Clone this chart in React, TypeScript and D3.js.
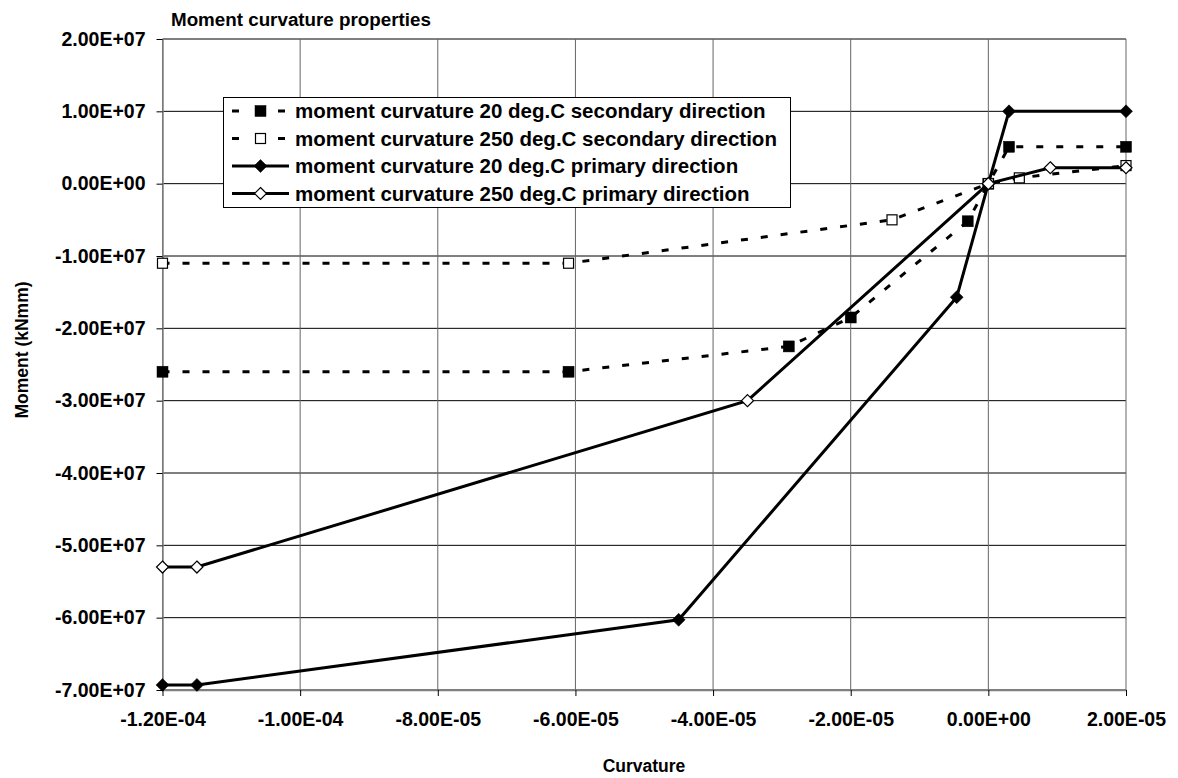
import React, { useEffect, useRef } from 'react';
import * as d3 from 'd3';

// curvature (x) and moment in kNmm (y) for each series
const curv20Sec = [-1.2e-4, -6.1e-5, -2.9e-5, -2.0e-5, -3e-6, 0, 3e-6, 2e-5];
const mom20Sec = [-2.6e7, -2.6e7, -2.25e7, -1.85e7, -5.2e6, 0, 5.1e6, 5.1e6];

const curv250Sec = [-1.2e-4, -6.1e-5, -1.4e-5, 0, 4.5e-6, 2e-5];
const mom250Sec = [-1.1e7, -1.1e7, -5.0e6, 0, 8e5, 2.5e6];

const curv20Pri = [-1.2e-4, -1.15e-4, -4.5e-5, -4.6e-6, 0, 3e-6, 2e-5];
const mom20Pri = [-6.93e7, -6.93e7, -6.03e7, -1.57e7, 0, 1.0e7, 1.0e7];

const curv250Pri = [-1.2e-4, -1.15e-4, -3.5e-5, 0, 9e-6, 2e-5];
const mom250Pri = [-5.3e7, -5.3e7, -3.0e7, 0, 2.2e6, 2.2e6];

const seriesNames = [
  'moment curvature 20 deg.C secondary direction',
  'moment curvature 250 deg.C secondary direction',
  'moment curvature 20 deg.C primary direction',
  'moment curvature 250 deg.C primary direction',
];

const xTicks = [-1.2e-4, -1.0e-4, -8e-5, -6e-5, -4e-5, -2e-5, 0, 2e-5];
const yTicks = [2e7, 1e7, 0, -1e7, -2e7, -3e7, -4e7, -5e7, -6e7, -7e7];

const fmtE = (v: number) => {
  const [m, e] = v.toExponential(2).split('e');
  const n = parseInt(e, 10);
  return `${m}E${n < 0 ? '-' : '+'}${String(Math.abs(n)).padStart(2, '0')}`;
};

const App = () => {
  const svgRef = useRef<SVGSVGElement>(null);

  useEffect(() => {
    const width = 1178;
    const height = 778;
    const left = 162.5, right = 1126, top = 39, bottom = 690;
    const font = 'Arial, "Liberation Sans", sans-serif';

    const svg = d3.select(svgRef.current).attr('width', width).attr('height', height);
    svg.selectAll('*').remove();

    const x = d3.scaleLinear().domain([-1.2e-4, 2e-5]).range([left, right]);
    const y = d3.scaleLinear().domain([-7e7, 2e7]).range([bottom, top]);

    // gridlines
    svg.append('g')
      .selectAll('line')
      .data(yTicks)
      .join('line')
      .attr('x1', left).attr('x2', right)
      .attr('y1', d => y(d)).attr('y2', d => y(d))
      .attr('stroke', '#000').attr('stroke-width', 1);

    svg.append('g')
      .selectAll('line')
      .data(xTicks)
      .join('line')
      .attr('x1', d => x(d)).attr('x2', d => x(d))
      .attr('y1', top).attr('y2', bottom)
      .attr('stroke', '#666').attr('stroke-width', 1);

    // axes
    const yAxis = svg.append('g')
      .attr('transform', `translate(${left},0)`)
      .call(d3.axisLeft(y).tickValues(yTicks).tickFormat(d => fmtE(+d)).tickSize(6).tickSizeOuter(0));
    const xAxis = svg.append('g')
      .attr('transform', `translate(0,${bottom})`)
      .call(d3.axisBottom(x).tickValues(xTicks).tickFormat(d => fmtE(+d)).tickSize(6).tickSizeOuter(0));

    [yAxis, xAxis].forEach(a => {
      a.select('.domain').attr('stroke', '#808080').attr('stroke-width', 1.5);
      a.selectAll('.tick line').attr('stroke', '#000');
      a.selectAll('.tick text')
        .attr('fill', '#000')
        .style('font-family', font)
        .style('font-weight', 'bold')
        .style('font-size', '19.5px');
    });
    yAxis.selectAll('.tick text').attr('x', -17);
    xAxis.selectAll('.tick text').attr('y', 22);

    // series
    const series = [
      { xs: curv20Sec, ys: mom20Sec, dash: '7 13', marker: 'square', fill: '#000' },
      { xs: curv250Sec, ys: mom250Sec, dash: '7 13', marker: 'square', fill: '#fff' },
      { xs: curv20Pri, ys: mom20Pri, dash: null, marker: 'diamond', fill: '#000' },
      { xs: curv250Pri, ys: mom250Pri, dash: null, marker: 'diamond', fill: '#fff' },
    ];

    const line = d3.line<[number, number]>().x(d => x(d[0])).y(d => y(d[1]));

    const drawMarker = (g: any, kind: string, fill: string, cx: number, cy: number) => {
      if (kind === 'square') {
        const s = fill === '#000' ? 11 : 10;
        g.append('rect')
          .attr('x', cx - s / 2).attr('y', cy - s / 2)
          .attr('width', s).attr('height', s)
          .attr('fill', fill).attr('stroke', '#000').attr('stroke-width', fill === '#000' ? 0.5 : 1.2);
      } else {
        const r = fill === '#000' ? 6.5 : 6;
        g.append('path')
          .attr('d', `M${cx},${cy - r}L${cx + r},${cy}L${cx},${cy + r}L${cx - r},${cy}Z`)
          .attr('fill', fill).attr('stroke', '#000').attr('stroke-width', fill === '#000' ? 0.5 : 1.2);
      }
    };

    series.forEach(s => {
      const pts = s.xs.map((v, i) => [v, s.ys[i]] as [number, number]);
      const g = svg.append('g');
      g.append('path')
        .datum(pts)
        .attr('d', line)
        .attr('fill', 'none')
        .attr('stroke', '#000')
        .attr('stroke-width', 3)
        .attr('stroke-dasharray', s.dash);
      pts.forEach(p => drawMarker(g, s.marker, s.fill, x(p[0]), y(p[1])));
    });

    // legend
    const lg = svg.append('g');
    lg.append('rect')
      .attr('x', 223.5).attr('y', 97.5).attr('width', 567).attr('height', 110)
      .attr('fill', '#fff').attr('stroke', '#000').attr('stroke-width', 1);
    series.forEach((s, i) => {
      const ly = 111 + i * 27.5;
      lg.append('line')
        .attr('x1', 232).attr('x2', 289).attr('y1', ly).attr('y2', ly)
        .attr('stroke', '#000').attr('stroke-width', 3)
        .attr('stroke-dasharray', s.dash ? '7 16' : null);
      drawMarker(lg, s.marker, s.fill, 260.5, ly);
      lg.append('text')
        .attr('x', 295).attr('y', ly)
        .attr('dy', '0.36em')
        .style('font-family', font).style('font-weight', 'bold').style('font-size', '20.5px')
        .text(seriesNames[i]);
    });

    // titles
    svg.append('text')
      .attr('x', 171).attr('y', 26)
      .style('font-family', font).style('font-weight', 'bold').style('font-size', '18.8px')
      .text('Moment curvature properties');

    svg.append('text')
      .attr('x', 644).attr('y', 772)
      .attr('text-anchor', 'middle')
      .style('font-family', font).style('font-weight', 'bold').style('font-size', '17.5px')
      .text('Curvature');

    svg.append('text')
      .attr('transform', 'translate(28,350) rotate(-90)')
      .attr('text-anchor', 'middle')
      .style('font-family', font).style('font-weight', 'bold').style('font-size', '17.5px')
      .text('Moment (kNmm)');
  }, []);

  return <svg ref={svgRef} style={{ position: 'absolute', left: 0, top: 0, background: '#fff' }}></svg>;
};

export default App;
